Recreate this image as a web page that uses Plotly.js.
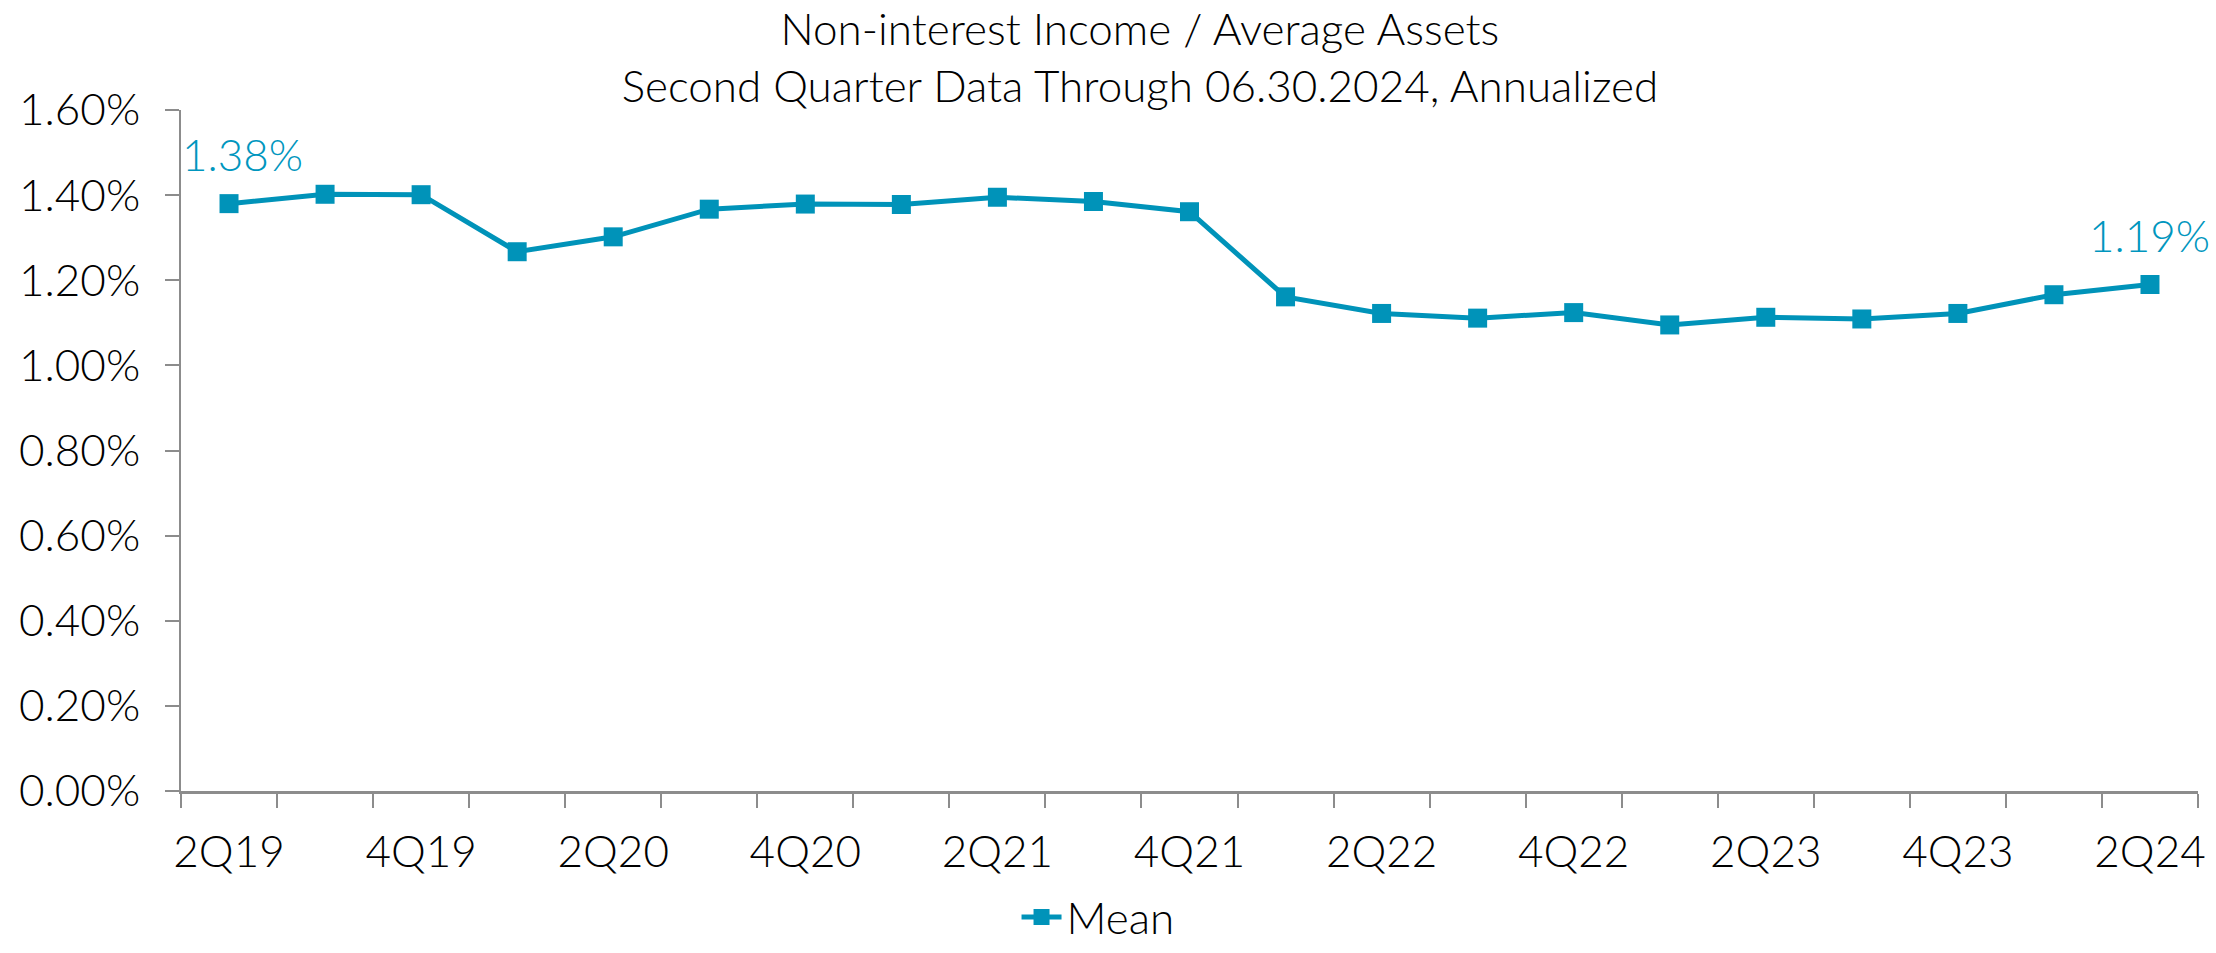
<!DOCTYPE html>
<html>
<head>
<meta charset="utf-8">
<script src="https://cdn.plot.ly/plotly-3.0.1.min.js"></script>
<style>
  html, body { margin: 0; padding: 0; background: #ffffff; }
  #chart { width: 2216px; height: 953px; }
</style>
</head>
<body>
<div id="chart"></div>
<script>
const quarters = ["2Q19","3Q19","4Q19","1Q20","2Q20","3Q20","4Q20","1Q21","2Q21","3Q21","4Q21",
                  "1Q22","2Q22","3Q22","4Q22","1Q23","2Q23","3Q23","4Q23","1Q24","2Q24"];
const meanValues = [0.01380,0.01402,0.01401,0.01267,0.01302,0.01367,0.01379,0.01378,0.01395,0.01385,0.01361,
                    0.01161,0.01122,0.01111,0.01124,0.01095,0.01113,0.01109,0.01122,0.01166,0.01190];
const tickLabels = ["2Q19","","4Q19","","2Q20","","4Q20","","2Q21","","4Q21",
                    "","2Q22","","4Q22","","2Q23","","4Q23","","2Q24"];
const seriesName = "Mean";
const titleLines = ["Non-interest Income / Average Assets", "Second Quarter Data Through 06.30.2024, Annualized"];

const FONT = "Lato, 'Open Sans', sans-serif";
const W = 300;
const BLUE = "#0093B9";
const AXIS = "#8C8C8C";

const trace = {
  type: "scatter",
  mode: "lines+markers",
  x: quarters,
  y: meanValues,
  name: seriesName,
  line: { color: BLUE, width: 5 },
  marker: { color: BLUE, symbol: "square", size: 19 },
  hoverinfo: "x+y"
};

const lastIdx = meanValues.length - 1;
const annotations = [0, lastIdx].map(i => ({
  x: quarters[i],
  y: meanValues[i],
  xref: "x", yref: "y",
  text: (meanValues[i] * 100).toFixed(2) + "%",
  showarrow: false,
  yshift: 50,
  xshift: i === 0 ? 13 : 0,
  font: { family: FONT, size: 44, color: "#0096BE", weight: W }
}));

const layout = {
  width: 2216,
  height: 953,
  margin: { l: 181, r: 18, t: 110, b: 162, pad: 0 },
  paper_bgcolor: "#ffffff",
  plot_bgcolor: "#ffffff",
  font: { family: FONT, size: 44, color: "#000000", weight: W },
  title: {
    text: titleLines.join("<br>"),
    font: { family: FONT, size: 44, color: "#000000", weight: W },
    x: 0.5144, xref: "container", xanchor: "center",
    y: 0.953, yref: "container", yanchor: "top"
  },
  xaxis: {
    type: "category",
    range: [-0.5, quarters.length - 0.5],
    tickmode: "array",
    tickvals: quarters,
    ticktext: tickLabels,
    tickson: "boundaries",
    tickangle: 0,
    ticks: "outside",
    ticklen: 14,
    tickwidth: 2,
    tickcolor: AXIS,
    showline: true,
    linecolor: AXIS,
    linewidth: 3,
    showgrid: false,
    zeroline: false,
    ticklabelstandoff: 20,
    tickfont: { family: FONT, size: 44, color: "#000000", weight: W }
  },
  yaxis: {
    range: [0, 0.016],
    tickmode: "linear",
    tick0: 0,
    dtick: 0.002,
    tickformat: ".2%",
    ticks: "outside",
    ticklen: 14,
    tickwidth: 2,
    tickcolor: AXIS,
    showline: true,
    linecolor: AXIS,
    linewidth: 2,
    showgrid: false,
    zeroline: false,
    ticklabelstandoff: 16,
    tickfont: { family: FONT, size: 44, color: "#000000", weight: W }
  },
  showlegend: true,
  legend: {
    orientation: "h",
    x: 0.4955, xref: "container", xanchor: "center",
    y: 0, yref: "container", yanchor: "bottom",
    font: { family: FONT, size: 44, color: "#000000", weight: W },
    itemwidth: 40
  },
  annotations: annotations
};

Plotly.newPlot("chart", [trace], layout, { displayModeBar: false, staticPlot: true });
</script>
</body>
</html>
